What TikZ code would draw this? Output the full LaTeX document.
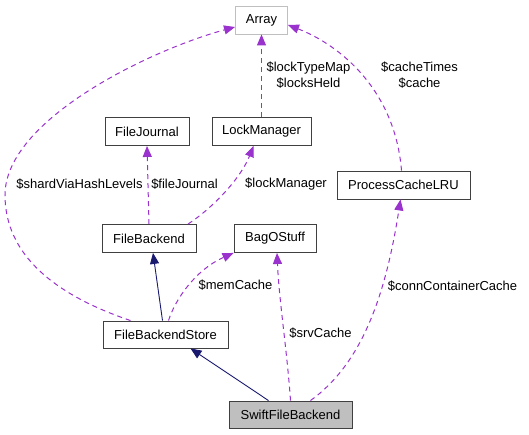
\documentclass[tikz,border=0pt]{standalone}
\usepackage{fontspec}
\setmainfont{Liberation Sans}
\usetikzlibrary{arrows.meta}

\definecolor{edgepurple}{HTML}{9A32CD}
\definecolor{edgenavy}{HTML}{191970}

\begin{document}
\begin{tikzpicture}[
    x=1pt, y=-1pt,
    font=\fontsize{13}{16}\selectfont,
    cls/.style={
        draw=black!75,
        line width=0.9pt,
        fill=white,
        align=center,
        inner sep=0pt,
        minimum height=28pt
    },
    ext/.style={cls, draw=black!25},
    focus/.style={cls, fill=black!25},
    inherit/.style={-{Triangle[length=11pt,width=9pt]}, line width=0.9pt, draw=edgenavy},
    usage/.style={-{Triangle[length=11pt,width=9pt]}, line width=1pt, draw=edgepurple,
        dash pattern=on 5pt off 4pt},
    lbl/.style={align=center, inner sep=0pt}
]
\useasboundingbox (0,0) rectangle (529,435);

% Classes
\node[ext, minimum width=52pt] (array) at (261.5,20) {Array};
\node[cls, minimum width=84pt] (journal) at (147,131.5) {FileJournal};
\node[cls, minimum width=99pt] (lockmgr) at (261.5,131.5) {LockManager};
\node[cls, minimum width=133pt] (proc) at (403.5,185) {ProcessCacheLRU};
\node[cls, minimum width=94pt] (backend) at (149,238.5) {FileBackend};
\node[cls, minimum width=82pt] (bag) at (275,238.5) {BagOStuff};
\node[cls, minimum width=125pt, minimum height=27pt] (store) at (165.5,334.5) {FileBackendStore};
\node[focus, minimum width=123pt, minimum height=27pt] (swift) at (290.5,414.5) {SwiftFileBackend};

% Inheritance
\draw[inherit] ([xshift=-22pt]swift.north) -- ([xshift=25pt]store.south);
\draw[inherit] ([xshift=-3pt]store.north) -- ([xshift=4pt]backend.south);

% Member usage
\draw[usage] (backend.north) -- (journal.south);
\draw[usage] ([xshift=39pt]backend.north) .. controls (210,210) and (240,180) .. ([xshift=-8pt]lockmgr.south);
\draw[usage] (lockmgr.north) -- (array.south);
\draw[usage] ([xshift=-35pt]store.north) .. controls (55,295) and (5,255) .. (5,195)
    .. controls (5,120) and (150,50) .. ([yshift=-7pt]array.west);
\draw[usage] ([xshift=3pt]store.north) .. controls (175,300) and (195,270) .. (bag.south west);
\draw[usage] (swift.north) .. controls (287,350) and (279,300) .. ([xshift=2pt]bag.south);
\draw[usage] ([xshift=20pt]swift.north) .. controls (360,365) and (385,300) .. ([xshift=-3pt]proc.south);
\draw[usage] ([xshift=-2pt]proc.north) .. controls (395,90) and (340,45) .. ([yshift=-5pt]array.east);

% Labels
\node[lbl] (lshard) at (79.5,184) {\$shardViaHashLevels};
\node[lbl] (ljournal) at (184.5,184) {\$fileJournal};
\node[lbl] (llockmgr) at (286,184) {\$lockManager};
\node[lbl] (llocks) at (308.5,75) {\$lockTypeMap\\\$locksHeld};
\node[lbl] (lcache) at (419.5,75) {\$cacheTimes\\\$cache};
\node[lbl] (lmem) at (235.5,285) {\$memCache};
\node[lbl] (lsrv) at (320.5,333) {\$srvCache};
\node[lbl] (lconn) at (452.5,286) {\$connContainerCache};

\end{tikzpicture}
\end{document}
